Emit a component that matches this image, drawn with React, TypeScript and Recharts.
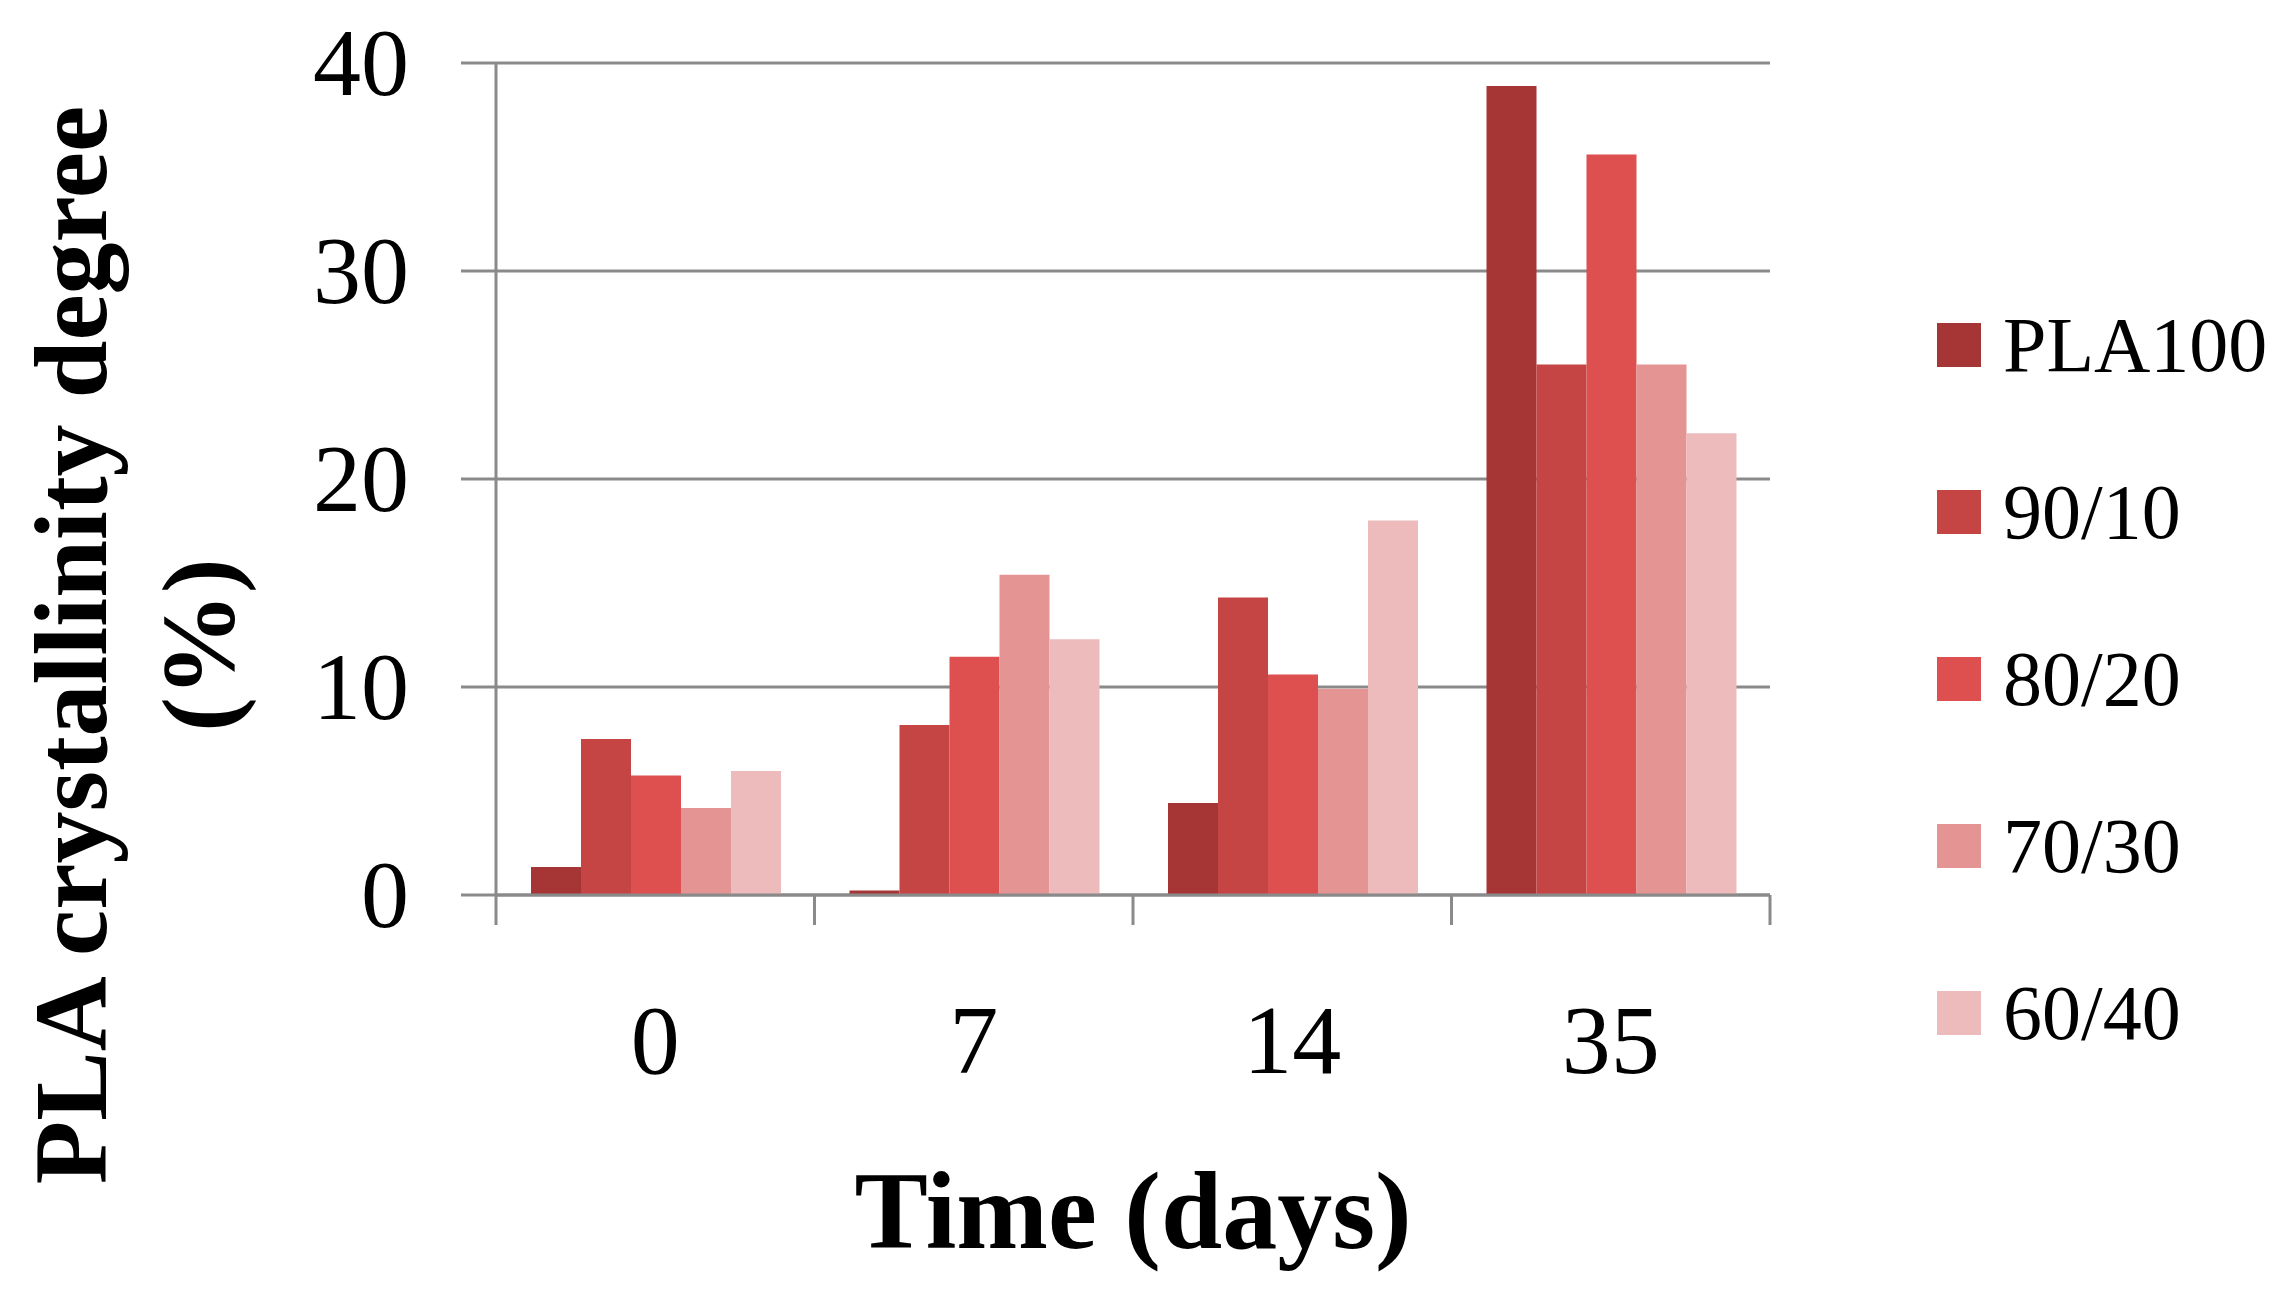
import { BarChart, Bar, XAxis, YAxis, CartesianGrid, Legend } from "recharts";

const DAYS = ["0", "7", "14", "35"];
const PLA100 = [1.35, 0.22, 4.42, 38.9];
const BLEND_90_10 = [7.5, 8.17, 14.3, 25.5];
const BLEND_80_20 = [5.74, 11.46, 10.6, 35.6];
const BLEND_70_30 = [4.18, 15.4, 9.92, 25.5];
const BLEND_60_40 = [5.96, 12.3, 18.0, 22.2];
const SERIES_NAMES = ["PLA100", "90/10", "80/20", "70/30", "60/40"];
const Y_TICKS = [0, 10, 20, 30, 40];

const COLORS = ["#A63535", "#C44543", "#DE4F4F", "#E59494", "#EDBBBB"];
const GRID = "#8a8a8a";
const FONT = "'Liberation Serif', 'Times New Roman', serif";

const SERIES = [PLA100, BLEND_90_10, BLEND_80_20, BLEND_70_30, BLEND_60_40];

const data = DAYS.map((day, i) => {
  const row: Record<string, string | number> = { day };
  SERIES_NAMES.forEach((name, s) => {
    row[name] = SERIES[s][i];
  });
  return row;
});

function DayTick(props: any) {
  const { x, y, payload, index, visibleTicksCount } = props;
  const half = payload?.offset ?? 159;
  const last = index === visibleTicksCount - 1;
  return (
    <g>
      <line x1={x - half} x2={x - half} y1={y} y2={y + 30} stroke={GRID} strokeWidth={3} />
      {last && (
        <line x1={x + half} x2={x + half} y1={y} y2={y + 30} stroke={GRID} strokeWidth={3} />
      )}
      <text x={x} y={y + 178} textAnchor="middle" fontSize={98} fontFamily={FONT} fill="#000">
        {payload.value}
      </text>
    </g>
  );
}

function ValueTick(props: any) {
  const { x, y, payload } = props;
  return (
    <text x={x} y={y} dy="0.33em" textAnchor="end" fontSize={96} fontFamily={FONT} fill="#000">
      {payload.value}
    </text>
  );
}

function YTitle() {
  return (
    <g fontFamily={FONT} fontWeight="bold" fontSize={104} fill="#000">
      <text x={98} y={637} textAnchor="middle" transform="rotate(-90, 98, 637)">
        PLA crystallinity degree
      </text>
      <text x={226} y={637} textAnchor="middle" transform="rotate(-90, 226, 637)">
        (%)
      </text>
    </g>
  );
}

function XTitle() {
  return (
    <text x={1125} y={1240} textAnchor="middle" fontFamily={FONT} fontWeight="bold" fontSize={110} fill="#000">
      Time (days)
    </text>
  );
}

function LegendBox(props: any) {
  const items = [...(props.payload ?? [])].sort(
    (a: any, b: any) => SERIES_NAMES.indexOf(a.value) - SERIES_NAMES.indexOf(b.value)
  );
  return (
    <div style={{ width: 352 }}>
      {items.map((item: any) => (
        <div key={item.value} style={{ display: "flex", alignItems: "center", height: 167 }}>
          <span style={{ width: 44, height: 44, background: item.color, marginLeft: 7, flex: "none" }} />
          <span style={{ marginLeft: 22, fontSize: 78, lineHeight: 1, fontFamily: FONT, color: "#000" }}>
            {item.value}
          </span>
        </div>
      ))}
    </div>
  );
}

export default function App() {
  return (
    <div style={{ width: 2281, height: 1301, background: "#fff" }}>
      <BarChart
        width={2281}
        height={1301}
        data={data}
        margin={{ top: 55, right: 167, bottom: 0, left: 0 }}
        barCategoryGap={35}
        barGap={0}
      >
        <CartesianGrid vertical={false} stroke={GRID} strokeWidth={3} />
        <XAxis
          dataKey="day"
          height={414}
          tickLine={false}
          tickSize={0}
          tickMargin={0}
          axisLine={{ stroke: GRID, strokeWidth: 3 }}
          tick={<DayTick />}
          interval={0}
          label={<XTitle />}
        />
        <YAxis
          width={488}
          domain={[0, 40]}
          ticks={Y_TICKS}
          tickSize={35}
          tickMargin={52}
          tickLine={{ stroke: GRID, strokeWidth: 3 }}
          axisLine={{ stroke: GRID, strokeWidth: 3 }}
          tick={<ValueTick />}
          label={<YTitle />}
        />
        <Legend
          layout="vertical"
          align="right"
          verticalAlign="top"
          content={<LegendBox />}
          wrapperStyle={{ left: 1922, top: 253, width: 352 }}
        />
        {SERIES_NAMES.map((name, i) => (
          <Bar key={name} dataKey={name} fill={COLORS[i]} isAnimationActive={false} />
        ))}
      </BarChart>
    </div>
  );
}
